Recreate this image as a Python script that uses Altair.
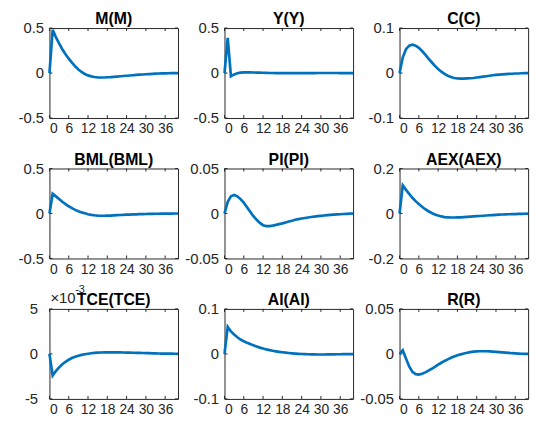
import altair as alt
import pandas as pd

periods = list(range(41))
x_ticks = [0, 6, 12, 18, 24, 30, 36]

titles = ["M(M)", "Y(Y)", "C(C)", "BML(BML)", "PI(PI)", "AEX(AEX)", "TCE(TCE)", "AI(AI)", "R(R)"]
limits = [0.5, 0.5, 0.1, 0.5, 0.05, 0.2, 5, 0.1, 0.05]

m_vals = [0, 0.48, 0.40, 0.33, 0.265, 0.21, 0.16, 0.115, 0.075, 0.04, 0.012, -0.01, -0.026, -0.037,
          -0.044, -0.048, -0.049, -0.049, -0.047, -0.045, -0.042, -0.039, -0.036, -0.033, -0.03,
          -0.027, -0.024, -0.021, -0.018, -0.016, -0.013, -0.011, -0.009, -0.007, -0.005, -0.004,
          -0.003, -0.002, -0.001, -0.001, 0.0]
y_vals = [0, 0.39, -0.035, -0.015, -0.002, 0.005, 0.008, 0.008, 0.007, 0.006, 0.005, 0.004, 0.003,
          0.002, 0.001, 0.0005, 0, -0.0005, -0.001, -0.001, -0.001, -0.001, -0.001, -0.001, -0.0008,
          -0.0006, -0.0004, -0.0002, 0, 0.0002, 0.0003, 0.0004, 0.0004, 0.0004, 0.0003, 0.0002,
          0.0001, 0, 0, 0, 0]
c_vals = [0, 0.035, 0.053, 0.061, 0.063, 0.061, 0.056, 0.049, 0.041, 0.032, 0.024, 0.016, 0.009,
          0.003, -0.002, -0.006, -0.009, -0.011, -0.012, -0.0125, -0.0125, -0.012, -0.0115, -0.011,
          -0.010, -0.009, -0.008, -0.007, -0.006, -0.005, -0.004, -0.0035, -0.003, -0.0025, -0.002,
          -0.0015, -0.001, -0.001, -0.0005, -0.0003, 0]
bml_vals = [0, 0.22, 0.19, 0.16, 0.13, 0.105, 0.08, 0.06, 0.04, 0.025, 0.012, 0.002, -0.008, -0.015,
            -0.02, -0.023, -0.025, -0.025, -0.024, -0.023, -0.021, -0.019, -0.017, -0.015, -0.013,
            -0.012, -0.01, -0.009, -0.008, -0.007, -0.006, -0.005, -0.004, -0.003, -0.003, -0.002,
            -0.002, -0.001, -0.001, 0, 0]
pi_vals = [0, 0.013, 0.019, 0.0205, 0.019, 0.016, 0.012, 0.007, 0.002, -0.003, -0.007, -0.0105,
           -0.013, -0.014, -0.014, -0.0135, -0.0127, -0.0118, -0.011, -0.010, -0.009, -0.008, -0.007,
           -0.0063, -0.0056, -0.005, -0.0044, -0.0039, -0.0034, -0.003, -0.0026, -0.0022, -0.0019,
           -0.0016, -0.0013, -0.001, -0.0008, -0.0006, -0.0004, -0.0002, 0]
aex_vals = [0, 0.125, 0.105, 0.087, 0.07, 0.055, 0.042, 0.03, 0.019, 0.01, 0.002, -0.004, -0.009,
            -0.013, -0.016, -0.017, -0.018, -0.018, -0.0175, -0.017, -0.016, -0.015, -0.014, -0.013,
            -0.012, -0.011, -0.01, -0.009, -0.008, -0.007, -0.006, -0.005, -0.0045, -0.004, -0.0035,
            -0.003, -0.0025, -0.002, -0.0015, -0.001, -0.0005]
# TCE in units of 10^-3
tce_vals = [0, -2.4, -1.9, -1.5, -1.15, -0.87, -0.64, -0.46, -0.32, -0.2, -0.11, -0.04, 0.02, 0.07,
            0.11, 0.14, 0.16, 0.17, 0.18, 0.18, 0.18, 0.175, 0.17, 0.16, 0.15, 0.14, 0.13, 0.12, 0.11,
            0.1, 0.09, 0.08, 0.07, 0.06, 0.05, 0.04, 0.035, 0.03, 0.025, 0.02, 0.015]
ai_vals = [0, 0.06, 0.05, 0.043, 0.037, 0.032, 0.028, 0.025, 0.022, 0.019, 0.0165, 0.014, 0.012,
           0.010, 0.0085, 0.007, 0.0058, 0.0047, 0.0037, 0.0028, 0.002, 0.0013, 0.0007, 0.0002,
           -0.0002, -0.0005, -0.0008, -0.001, -0.0011, -0.0012, -0.0012, -0.0012, -0.0011, -0.001,
           -0.0009, -0.0008, -0.0007, -0.0006, -0.0005, -0.0004, -0.0003]
r_vals = [0, 0.004, -0.005, -0.014, -0.020, -0.0225, -0.023, -0.022, -0.0205, -0.0185, -0.0165,
          -0.0143, -0.012, -0.0098, -0.0078, -0.006, -0.0043, -0.0028, -0.0015, -0.0005, 0.0005,
          0.0013, 0.002, 0.0025, 0.0028, 0.003, 0.003, 0.003, 0.0028, 0.0026, 0.0023, 0.002, 0.0017,
          0.0014, 0.0011, 0.0008, 0.0006, 0.0004, 0.0002, 0.0001, 0]

series = [m_vals, y_vals, c_vals, bml_vals, pi_vals, aex_vals, tce_vals, ai_vals, r_vals]

W, H = 130, 91
TICK = 3
AXC = "#262626"
FONT = "Liberation Sans"


def panel(name, vals, lim, exponent=False):
    df = pd.DataFrame({"t": periods, "v": vals})
    xs = alt.Scale(domain=[0, 40], nice=False, zero=False)
    ys = alt.Scale(domain=[-lim, lim], nice=False, zero=False)
    yt = [-lim, 0, lim]
    xax = alt.Axis(values=x_ticks, labelExpr="'' + datum.value", labelFontSize=14,
                   labelOverlap=False, labelPadding=4)
    yax = alt.Axis(values=yt, labelExpr="'' + datum.value", labelFontSize=15,
                   labelOverlap=False, labelPadding=12 if exponent else 6)
    line = alt.Chart(df).mark_line(color="#0072BD", strokeWidth=2.7).encode(
        x=alt.X("t:Q", scale=xs, title=None, axis=xax),
        y=alt.Y("v:Q", scale=ys, title=None, axis=yax),
    )
    xdf = pd.DataFrame({"t": x_ticks})
    ydf = pd.DataFrame({"v": yt})
    bt = alt.Chart(xdf).mark_rule(color=AXC, strokeWidth=1).encode(
        x=alt.X("t:Q", scale=xs, title=None, axis=xax), y=alt.value(H), y2=alt.value(H - TICK))
    tt = alt.Chart(xdf).mark_rule(color=AXC, strokeWidth=1).encode(
        x=alt.X("t:Q", scale=xs, title=None, axis=xax), y=alt.value(0), y2=alt.value(TICK))
    lt = alt.Chart(ydf).mark_rule(color=AXC, strokeWidth=1).encode(
        y=alt.Y("v:Q", scale=ys, title=None, axis=yax), x=alt.value(0), x2=alt.value(TICK))
    rt = alt.Chart(ydf).mark_rule(color=AXC, strokeWidth=1).encode(
        y=alt.Y("v:Q", scale=ys, title=None, axis=yax), x=alt.value(W), x2=alt.value(W - TICK))
    layers = []
    if exponent:
        e1 = alt.Chart(pd.DataFrame({"s": ["×10"]})).mark_text(
            align="left", baseline="alphabetic", font=FONT, fontSize=15, color=AXC).encode(
            text="s:N", x=alt.value(1), y=alt.value(-6))
        e2 = alt.Chart(pd.DataFrame({"s": ["-3"]})).mark_text(
            align="left", baseline="alphabetic", font=FONT, fontSize=11, color=AXC).encode(
            text="s:N", x=alt.value(26), y=alt.value(-16))
        layers += [e1, e2]
    ttl = alt.Chart(pd.DataFrame({"s": [name]})).mark_text(
        align="center", baseline="alphabetic", font=FONT, fontSize=16, fontWeight="bold",
        color="#000000").encode(text="s:N", x=alt.value(W / 2), y=alt.value(-4))
    layers += [bt, tt, lt, rt, line, ttl]
    return alt.layer(*layers).properties(width=W, height=H)


panels = [panel(titles[i], series[i], limits[i], exponent=(i == 6)) for i in range(9)]

chart = alt.concat(*panels, columns=3, spacing={"row": 51, "column": 47}, bounds="flush").properties(
    padding={"left": 17, "top": 8, "right": 5, "bottom": 5},
    background="white",
).configure_view(
    stroke=AXC, strokeWidth=1
).configure_axis(
    grid=False, domain=False, ticks=False, labelFont=FONT, labelColor=AXC
)

chart.save("out.html", embed_options={"renderer": "svg", "actions": False})
